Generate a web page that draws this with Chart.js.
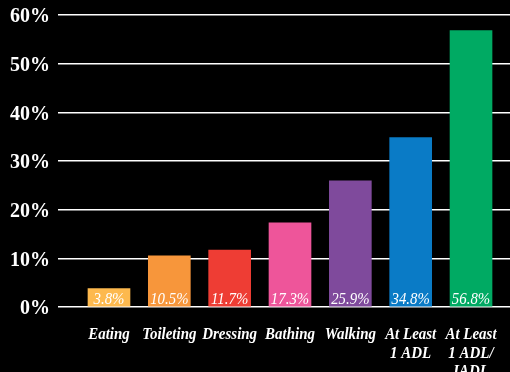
<!DOCTYPE html>
<html>
<head>
<meta charset="utf-8">
<script src="https://cdn.jsdelivr.net/npm/chart.js@4"></script>
<style>
    html, body { margin: 0; padding: 0; background: #000; }
    #wrap { width: 510px; height: 372px; position: relative; }
</style>
</head>
<body>
<div id="wrap"><canvas id="adlChart"></canvas></div>
<script>
const categorias = [
    'Eating', 'Toileting', 'Dressing', 'Bathing', 'Walking',
    ['At Least', '1 ADL'], ['At Least', '1 ADL/', 'IADL']
];
const porcentagens = [3.8, 10.5, 11.7, 17.3, 25.9, 34.8, 56.8];
const coresBarras = ['#fdb94e', '#f7963b', '#ee3d34', '#ee559a', '#7f4a9c', '#0a7bc6', '#00aa63'];
const ticksY = [0, 10, 20, 30, 40, 50, 60];

const FONTE_SERIF = '"Liberation Serif", "Times New Roman", serif';

// texto um pouco comprimido na horizontal, como no layout original
function textoEstreito(ctx, texto, x, y, escala) {
    ctx.save();
    ctx.translate(x, y);
    ctx.scale(escala, 1);
    ctx.fillText(texto, 0, 0);
    ctx.restore();
}

// rótulo de valor no pé de cada barra
const rotulosValor = {
    id: 'rotulosValor',
    afterDatasetsDraw(chart) {
        const ctx = chart.ctx;
        const meta = chart.getDatasetMeta(0);
        const base = chart.scales.y.getPixelForValue(0);
        ctx.save();
        ctx.font = 'italic 16.5px ' + FONTE_SERIF;
        ctx.fillStyle = '#fff';
        ctx.textAlign = 'center';
        ctx.textBaseline = 'alphabetic';
        meta.data.forEach((bar, i) => {
            textoEstreito(ctx, porcentagens[i].toFixed(1) + '%', bar.x, base - 3, 0.9);
        });
        ctx.restore();
    }
};

// categorias do eixo x, desenhadas à mão para poder comprimir a fonte
const rotulosCategoria = {
    id: 'rotulosCategoria',
    afterDraw(chart) {
        const ctx = chart.ctx;
        const escalaX = chart.scales.x;
        const topo = chart.chartArea.bottom + 32;
        ctx.save();
        ctx.font = 'italic bold 17px ' + FONTE_SERIF;
        ctx.fillStyle = '#fff';
        ctx.textAlign = 'center';
        ctx.textBaseline = 'alphabetic';
        categorias.forEach((cat, i) => {
            const linhas = Array.isArray(cat) ? cat : [cat];
            const x = escalaX.getPixelForValue(i);
            linhas.forEach((linha, k) => {
                textoEstreito(ctx, linha, x, topo + k * 18.5, 0.88);
            });
        });
        ctx.restore();
    }
};

new Chart(document.getElementById('adlChart'), {
    type: 'bar',
    data: {
        datasets: [{
            data: porcentagens.map((v, i) => ({ x: i, y: v })),
            backgroundColor: coresBarras,
            borderWidth: 0,
            barThickness: 42
        }]
    },
    options: {
        responsive: true,
        maintainAspectRatio: false,
        animation: false,
        layout: { padding: { top: 15, right: 0, left: 0, bottom: 0 } },
        plugins: {
            legend: { display: false },
            tooltip: { enabled: false }
        },
        scales: {
            x: {
                type: 'linear',
                offset: false,
                min: -0.845,
                max: 6.646,
                afterBuildTicks: scale => {
                    scale.ticks = categorias.map((_, i) => ({ value: i }));
                },
                afterFit: scale => {
                    scale.height = 65;
                    scale.paddingLeft = 0;
                    scale.paddingRight = 0;
                },
                grid: { display: false },
                border: { display: false },
                ticks: { display: false }
            },
            y: {
                min: 0,
                max: 60,
                afterBuildTicks: scale => {
                    scale.ticks = ticksY.map(v => ({ value: v }));
                },
                afterFit: scale => {
                    scale.width = 58;
                    scale.paddingTop = 0;
                    scale.paddingBottom = 0;
                },
                grid: { color: '#ffffff', lineWidth: 1.5, drawTicks: false },
                border: { display: false },
                ticks: {
                    padding: 8,
                    labelOffset: 2,
                    color: '#fff',
                    font: { family: FONTE_SERIF, size: 20, weight: 'bold' },
                    callback: v => v + '%'
                }
            }
        }
    },
    plugins: [rotulosValor, rotulosCategoria]
});
</script>
</body>
</html>
